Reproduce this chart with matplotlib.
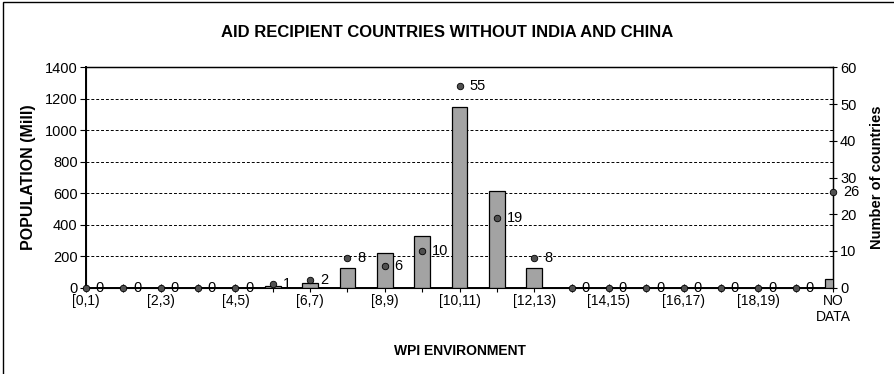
import matplotlib.pyplot as plt
from matplotlib.patches import Rectangle

plt.rcParams['font.family'] = ['Liberation Sans', 'DejaVu Sans']

# categories of the WPI environment score
categories = ['[0,1)', '[1,2)', '[2,3)', '[3,4)', '[4,5)', '[5,6)', '[6,7)',
              '[7,8)', '[8,9)', '[9,10)', '[10,11)', '[11,12)', '[12,13)',
              '[13,14)', '[14,15)', '[15,16)', '[16,17)', '[17,18)', '[18,19)',
              '[19,20)', 'NO\nDATA']
# population (millions), left axis
population = [0, 0, 0, 0, 0, 10, 30, 123, 222, 330, 1146, 612, 124,
              0, 0, 0, 0, 0, 0, 0, 53]
# number of countries, right axis
countries = [0, 0, 0, 0, 0, 1, 2, 8, 6, 10, 55, 19, 8,
             0, 0, 0, 0, 0, 0, 0, 26]

fig = plt.figure(figsize=(8.94, 3.74), dpi=100)
ax = fig.add_axes([0.0962, 0.2308, 0.8356, 0.5892])

x = list(range(len(categories)))
ax.bar(x, population, width=0.42, color='#a3a3a3', edgecolor='black',
       linewidth=0.9, zorder=3)
ax.set_xlim(0, len(categories) - 1)
ax.set_ylim(0, 1400)
ax.set_yticks(range(0, 1401, 200))
ax.yaxis.grid(True, linestyle=(0, (3, 2)), color='black', linewidth=0.7)
ax.set_axisbelow(True)
ax.set_xticks(x)
ax.set_xticklabels([c if i % 2 == 0 else '' for i, c in enumerate(categories)])
ax.tick_params(axis='x', direction='inout', length=6, pad=1.5, labelsize=10)
ax.tick_params(axis='y', direction='out', length=4, pad=2, labelsize=10.5)
for s in ax.spines.values():
    s.set_linewidth(1.0)
ax.spines['left'].set_linewidth(1.4)
ax.spines['bottom'].set_linewidth(1.4)
ax.set_ylabel('POPULATION (Mill)', fontweight='bold', fontsize=11.5, labelpad=6)
ax.set_xlabel('WPI ENVIRONMENT', fontweight='bold', fontsize=10, labelpad=14)

ax2 = ax.twinx()
ax2.set_ylim(0, 60)
ax2.set_yticks(range(0, 61, 10))
ax2.tick_params(axis='y', direction='inout', length=6, pad=2, labelsize=10.5)
ax2.scatter(x, countries, s=22, color='#505050', edgecolor='black',
            linewidth=0.6, zorder=5, clip_on=False)
for xi, c in zip(x, countries):
    ax2.annotate(str(c), (xi, c), xytext=(7, 0), textcoords='offset points',
                 ha='left', va='center', fontsize=10.5, annotation_clip=False)
ax2.set_ylabel('Number of countries', fontweight='bold', fontsize=10.5, labelpad=10)

fig.text(0.5, 0.912, 'AID RECIPIENT COUNTRIES WITHOUT INDIA AND CHINA',
         ha='center', va='center', fontweight='bold', fontsize=12)

fig.patches.append(Rectangle((0.0035, -0.02), 1.1, 1.0145, transform=fig.transFigure,
                             fill=False, edgecolor='black', linewidth=1.0))

fig.savefig('out.png', dpi=100)
